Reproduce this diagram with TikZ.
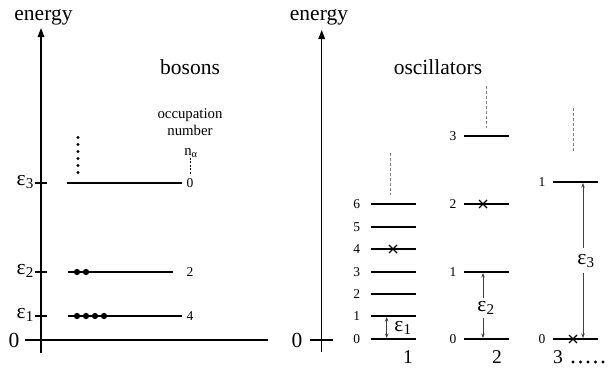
\documentclass[tikz,border=0pt]{standalone}
\usepackage{fontspec}
\setmainfont{Liberation Serif}
\usetikzlibrary{arrows.meta}
\begin{document}
\begin{tikzpicture}[x=1pt,y=-1pt,
  big/.style={font=\fontsize{21.5}{24}\selectfont, inner sep=0pt},
  mid/.style={font=\fontsize{19.5}{22}\selectfont, inner sep=0pt},
  small/.style={font=\fontsize{14.8}{17}\selectfont, inner sep=0pt},
  num/.style={font=\fontsize{13.5}{16}\selectfont, inner sep=0pt},
  lvl/.style={line width=1.6pt},
  axis/.style={line width=1.4pt,-{Triangle[length=9pt,width=6.5pt]}},
  dsh/.style={gray, line width=1pt, dash pattern=on 3pt off 2pt},
  bdot/.style={circle, fill, inner sep=0pt, minimum size=6.3pt},
  sdot/.style={circle, fill, inner sep=0pt, minimum size=3.4pt},
  arr/.style={black!75, line width=0.8pt, -{Stealth[length=4.5pt,width=3.5pt]}},
  xmark/.style={line width=1.2pt}]
\useasboundingbox (0,0) rectangle (609,378);

% ---------------- left panel: bosons ----------------
\coordinate (Lbot) at (41,353);
\coordinate (Ltop) at (41,28);
\draw[axis] (Lbot) -- (Ltop);
\node[big,anchor=base] (Lenergy) at (43.5,20) {energy};
\coordinate (LhA) at (25,340);
\coordinate (LhB) at (268,340);
\draw[lvl] (LhA) -- (LhB);
\node[big] (Lzero) at (14,340) {0};

\foreach \n/\y/\xa/\xb/\occ in {3/183/67/182/0, 2/272/68/173/2, 1/316/68/182/4} {
  \coordinate (B\n a) at (\xa,\y);
  \coordinate (B\n b) at (\xb,\y);
  \draw[lvl] (B\n a) -- (B\n b);
  \coordinate (T\n a) at (35,\y);
  \coordinate (T\n b) at (47,\y);
  \draw[lvl] (T\n a) -- (T\n b);
  \node[big,anchor=east] (E\n) at (34,\y-1) {ε\textsubscript{\n}};
  \node[num] (Occ\n) at (190,\y) {\occ};
}
\node[bdot] (d21) at (77,272) {};
\node[bdot] (d22) at (86,272) {};
\foreach \k/\x in {1/77,2/86,3/95,4/104} {
  \node[bdot] (d1\k) at (\x,316) {};
}
\foreach \k in {0,...,5} {
  \node[sdot] (cd\k) at (78,137.5+7*\k) {};
}
\node[big,anchor=base] (bosons) at (190,74) {bosons};
\node[small,anchor=base] (occA) at (190,118) {occupation};
\node[small,anchor=base] (occB) at (190,135) {number};
\node[small,anchor=base] (nal) at (191,155) {n\textsubscript{α}};
\coordinate (nalb) at (190,175);
\draw[dsh, black, line width=0.7pt, dash pattern=on 2pt off 1.5pt] (190,157.5) -- (nalb);

% ---------------- right panel: oscillators ----------------
\coordinate (Rbot) at (321.7,352);
\coordinate (Rtop) at (321.7,30);
\draw[axis] (Rbot) -- (Rtop);
\node[big,anchor=base] (Renergy) at (319,20) {energy};
\coordinate (RtA) at (310,340);
\coordinate (RtB) at (333,340);
\draw[lvl] (RtA) -- (RtB);
\node[big] (Rzero) at (297,340) {0};
\node[big,anchor=base] (osc) at (438,74) {oscillators};

% oscillator 1
\foreach \i/\y in {0/339,1/316,2/294,3/272,4/249,5/227,6/204} {
  \coordinate (P\i a) at (371,\y);
  \coordinate (P\i b) at (416,\y);
  \draw[lvl] (P\i a) -- (P\i b);
  \node[num] (P\i l) at (356.7,\y) {\i};
}
\coordinate (P1dA) at (390,153);
\coordinate (P1dB) at (390,195);
\draw[dsh] (P1dA) -- (P1dB);
\draw[xmark] (389,245) -- (397,253) (389,253) -- (397,245);
\coordinate (A1m) at (386.7,327.5);
\draw[arr] (A1m) -- (386.7,317);
\draw[arr] (A1m) -- (386.7,338);
\node[big] (eps1) at (403,327.5) {ε\textsubscript{1}};
\node[mid] (lab1) at (408,357) {1};

% oscillator 2
\foreach \i/\y in {0/339,1/272,2/204,3/136} {
  \coordinate (Q\i a) at (464,\y);
  \coordinate (Q\i b) at (509,\y);
  \draw[lvl] (Q\i a) -- (Q\i b);
  \node[num] (Q\i l) at (453,\y) {\i};
}
\coordinate (Q2dA) at (486,86);
\coordinate (Q2dB) at (486,128);
\draw[dsh] (Q2dA) -- (Q2dB);
\draw[xmark] (479,200) -- (487,208) (479,208) -- (487,200);
\node[big] (eps2) at (486,308) {ε\textsubscript{2}};
\coordinate (A2u) at (483,298);
\coordinate (A2d) at (483,318);
\draw[arr] (A2u) -- (483,273);
\draw[arr] (A2d) -- (483,338);
\node[mid] (lab2) at (497,357) {2};

% oscillator 3
\foreach \i/\y in {0/339,1/182} {
  \coordinate (S\i a) at (553,\y);
  \coordinate (S\i b) at (598,\y);
  \draw[lvl] (S\i a) -- (S\i b);
  \node[num] (S\i l) at (542,\y) {\i};
}
\coordinate (S3dA) at (573,108);
\coordinate (S3dB) at (573,152);
\draw[dsh] (S3dA) -- (S3dB);
\draw[xmark] (569,335) -- (577,343) (569,343) -- (577,335);
\node[big] (eps3) at (586,261) {ε\textsubscript{3}};
\coordinate (A3u) at (583,248);
\coordinate (A3d) at (583,273);
\draw[arr] (A3u) -- (583,183);
\draw[arr] (A3d) -- (583,338);
\node[mid] (lab3) at (558,357) {3};
\foreach \k in {0,...,4} {
  \node[sdot] (ed\k) at (573+7.5*\k,362) {};
}
\end{tikzpicture}
\end{document}
